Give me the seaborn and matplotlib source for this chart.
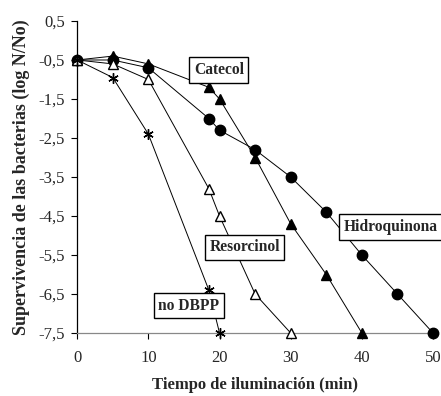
import matplotlib
matplotlib.use("Agg")
import matplotlib.pyplot as plt
import seaborn as sns
import pandas as pd

sns.set_style("white")
plt.rcParams['font.family'] = ['Liberation Serif', 'DejaVu Serif']

# Data
hidro_t = [0, 5, 10, 18.5, 20, 25, 30, 35, 40, 45, 50]
hidro_v = [-0.5, -0.5, -0.7, -2.0, -2.3, -2.8, -3.5, -4.4, -5.5, -6.5, -7.5]
cate_t = [0, 5, 10, 18.5, 20, 25, 30, 35, 40]
cate_v = [-0.5, -0.4, -0.6, -1.2, -1.5, -3.0, -4.7, -6.0, -7.5]
reso_t = [0, 5, 10, 18.5, 20, 25, 30]
reso_v = [-0.5, -0.6, -1.0, -3.8, -4.5, -6.5, -7.5]
nodb_t = [0, 5, 10, 18.5, 20]
nodb_v = [-0.5, -0.95, -2.4, -6.4, -7.5]

x_ticks = [0, 10, 20, 30, 40, 50]
y_ticks = [0.5, -0.5, -1.5, -2.5, -3.5, -4.5, -5.5, -6.5, -7.5]
y_ticklabels = ["0,5", "-0,5", "-1,5", "-2,5", "-3,5", "-4,5", "-5,5", "-6,5", "-7,5"]

series = [
    ("Hidroquinona", hidro_t, hidro_v, "o", "black", 7.5),
    ("Catecol", cate_t, cate_v, "^", "black", 7.5),
    ("Resorcinol", reso_t, reso_v, "^", "white", 6.5),
    ("no DBPP", nodb_t, nodb_v, (6, 2, 0), "black", 7.5),
]

fig = plt.figure(figsize=(4.41, 3.96), dpi=100)
ax = fig.add_axes([0.175, 0.159, 0.807, 0.788])

for name, t, v, m, fc, ms in series:
    df = pd.DataFrame({"t": t, "v": v})
    sns.lineplot(data=df, x="t", y="v", ax=ax, color="black", lw=0.7,
                 marker=m, markersize=ms, markerfacecolor=fc,
                 markeredgecolor="black", markeredgewidth=1.0,
                 clip_on=False, zorder=3)

ax.set_xlim(0, 50)
ax.set_ylim(-7.5, 0.5)
ax.set_xticks(x_ticks)
ax.set_xticklabels([str(x) for x in x_ticks])
ax.set_yticks(y_ticks)
ax.set_yticklabels(y_ticklabels)
ax.tick_params(axis="both", labelsize=12, length=4, width=0.8, direction="out",
               color="black", left=True, bottom=True, pad=5)
ax.tick_params(axis="x", pad=8)
for s in ["top", "right"]:
    ax.spines[s].set_visible(False)
ax.spines["left"].set_color("black")
ax.spines["left"].set_linewidth(0.9)
ax.spines["bottom"].set_color("#888888")
ax.spines["bottom"].set_linewidth(0.9)

ax.set_xlabel("Tiempo de iluminación (min)", fontsize=12, fontweight="bold", labelpad=8)
ax.set_ylabel("Supervivencia de las bacterias (log N/No)", fontsize=13, fontweight="bold", labelpad=6)

bbox = dict(boxstyle="square,pad=0.3", facecolor="white", edgecolor="black", lw=1.0)
labels = [("Catecol", 19.9, -0.76), ("Hidroquinona", 44.0, -4.78),
          ("Resorcinol", 23.5, -5.3), ("no DBPP", 15.7, -6.8)]
for txt, x, y in labels:
    ax.text(x, y, txt, fontsize=11.2, fontweight="bold", ha="center", va="center",
            bbox=bbox, zorder=5)

fig.savefig("out.png", dpi=100)
